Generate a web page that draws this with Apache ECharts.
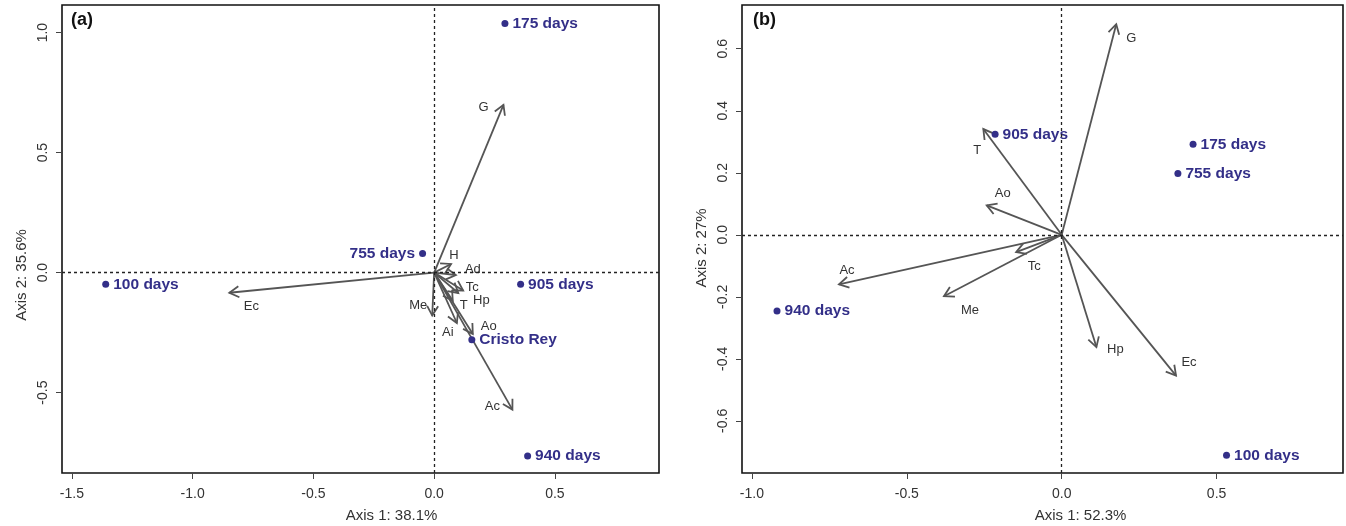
<!DOCTYPE html>
<html>
<head>
<meta charset="utf-8">
<script src="https://cdn.jsdelivr.net/npm/echarts@6/dist/echarts.min.js"></script>
<style>
  html, body { margin: 0; padding: 0; background: #fff; }
  #biplot { width: 1346px; height: 526px; }
</style>
</head>
<body>
<div id="biplot"></div>
<script>
// ==============================================================
// data
// ==============================================================
// (a) sites
var siteNamesA = ['175 days', '755 days', '100 days', '905 days', 'Cristo Rey', '940 days'];
var siteXA = [0.293, -0.048, -1.36, 0.358, 0.156, 0.387];
var siteYA = [1.038, 0.080, -0.049, -0.049, -0.280, -0.764];
// (a) variable arrows
var varNamesA = ['G', 'Ec', 'Ac', 'H', 'Ad', 'Tc', 'Hp', 'T', 'Me', 'Ai', 'Ao'];
var varXA = [0.287, -0.848, 0.324, 0.070, 0.090, 0.120, 0.100, 0.077, -0.008, 0.094, 0.160];
var varYA = [0.699, -0.084, -0.571, 0.036, -0.010, -0.075, -0.085, -0.117, -0.179, -0.210, -0.256];

// (b) sites
var siteNamesB = ['905 days', '175 days', '755 days', '940 days', '100 days'];
var siteXB = [-0.215, 0.424, 0.375, -0.919, 0.532];
var siteYB = [0.324, 0.292, 0.198, -0.246, -0.711];
// (b) variable arrows
var varNamesB = ['G', 'T', 'Ao', 'Ac', 'Tc', 'Me', 'Hp', 'Ec'];
var varXB = [0.176, -0.253, -0.242, -0.719, -0.147, -0.380, 0.112, 0.369];
var varYB = [0.679, 0.341, 0.095, -0.160, -0.056, -0.198, -0.362, -0.454];

// tick labels
var xTicksA = [-1.5, -1.0, -0.5, 0.0, 0.5];
var yTicksA = [-0.5, 0.0, 0.5, 1.0];
var xTicksB = [-1.0, -0.5, 0.0, 0.5];
var yTicksB = [-0.6, -0.4, -0.2, 0.0, 0.2, 0.4, 0.6];

// ==============================================================
// styling (pixel offsets of the arrow labels from the arrow tip)
// ==============================================================
var labelOffA = {
    G: [-20, 3], Ec: [22, 14], Ac: [-20, -3], H: [3, -9], Ad: [17, -6],
    Tc: [9, -3], Hp: [23, 7], T: [11, 5], Me: [-14, -10], Ai: [-9, 9], Ao: [16, -8]
};
var labelOffB = {
    G: [15, 14], T: [-6, 21], Ao: [16, -12], Ac: [8, -14],
    Tc: [18, 14], Me: [26, 14], Hp: [19, 2], Ec: [13, -13]
};
var siteLabelPosA = { '755 days': 'left' };

var siteColor = '#332f88';
var arrowColor = '#555555';
var fontFam = '"Liberation Sans", Arial, sans-serif';

function zip(xs, ys, names) {
    return xs.map(function (x, i) { return { name: names[i], value: [x, ys[i]] }; });
}
function fmt(v) { return v.toFixed(1); }

// shiftX / shiftY: how far the axis titles sit off the centre of the box
function makeAxes(gridIndex, xr, yr, xt, yt, xName, yName, shiftX, shiftY) {
    var x = {
        gridIndex: gridIndex, type: 'value', min: xr[0], max: xr[1],
        name: xName, nameLocation: 'middle', nameGap: 35,
        nameTextStyle: { fontFamily: fontFam, fontSize: 15, color: '#333', padding: [0, 0, 0, 2 * shiftX] },
        axisLine: { show: false, onZero: false },
        axisTick: { show: true, length: 6, inside: false, customValues: xt, lineStyle: { color: '#444' } },
        axisLabel: { customValues: xt, formatter: fmt, margin: 14, fontFamily: fontFam, fontSize: 14, color: '#333' },
        splitLine: { show: false }
    };
    var y = {
        gridIndex: gridIndex, type: 'value', min: yr[0], max: yr[1],
        name: yName, nameLocation: 'middle', nameGap: 33, nameRotate: 90,
        nameTextStyle: { fontFamily: fontFam, fontSize: 15, color: '#333', padding: [0, 2 * shiftY, 0, 0] },
        axisLine: { show: false, onZero: false },
        axisTick: { show: true, length: 6, inside: false, customValues: yt, lineStyle: { color: '#444' } },
        axisLabel: { customValues: yt, formatter: fmt, rotate: 90, margin: 12, fontFamily: fontFam, fontSize: 14, color: '#333' },
        splitLine: { show: false }
    };
    return [x, y];
}

function arrowSeries(idx, data, offs) {
    return {
        type: 'custom',
        xAxisIndex: idx, yAxisIndex: idx,
        data: data,
        silent: true,
        z: 3,
        renderItem: function (params, api) {
            var p0 = api.coord([0, 0]);
            var p1 = api.coord([api.value(0), api.value(1)]);
            var ang = Math.atan2(p1[1] - p0[1], p1[0] - p0[0]);
            var hl = 11, ha = Math.PI / 6;
            var h1 = [p1[0] - hl * Math.cos(ang - ha), p1[1] - hl * Math.sin(ang - ha)];
            var h2 = [p1[0] - hl * Math.cos(ang + ha), p1[1] - hl * Math.sin(ang + ha)];
            var nm = data[params.dataIndex].name;
            var off = offs[nm] || [0, 0];
            var st = { stroke: arrowColor, lineWidth: 1.8, fill: null };
            return {
                type: 'group',
                children: [
                    { type: 'line', shape: { x1: p0[0], y1: p0[1], x2: p1[0], y2: p1[1] }, style: st },
                    { type: 'polyline', shape: { points: [h1, p1, h2] }, style: st },
                    {
                        type: 'text', x: p1[0] + off[0], y: p1[1] + off[1],
                        style: {
                            text: nm, fill: '#333', font: '13px ' + fontFam,
                            align: 'center', verticalAlign: 'middle'
                        }
                    }
                ]
            };
        }
    };
}

function siteSeries(idx, data, posMap) {
    return {
        type: 'scatter',
        xAxisIndex: idx, yAxisIndex: idx,
        symbol: 'circle', symbolSize: 7,
        itemStyle: { color: siteColor, opacity: 1 },
        z: 4,
        data: data.map(function (d) {
            return {
                name: d.name, value: d.value,
                label: { position: (posMap && posMap[d.name]) || 'right' }
            };
        }),
        label: {
            show: true, formatter: '{b}', distance: 4,
            color: siteColor, fontWeight: 'bold', fontSize: 15.5, fontFamily: fontFam
        },
        markLine: {
            silent: true, symbol: 'none', label: { show: false },
            lineStyle: { color: '#222', type: [3, 3], width: 1.3, opacity: 1 },
            data: [{ xAxis: 0 }, { yAxis: 0 }]
        }
    };
}

var myChart = echarts.init(document.getElementById('biplot'));

var axA = makeAxes(0, [-1.541, 0.931], [-0.835, 1.115], xTicksA, yTicksA, 'Axis 1: 38.1%', 'Axis 2: 35.6%', 31, 36);
var axB = makeAxes(1, [-1.032, 0.908], [-0.768, 0.741], xTicksB, yTicksB, 'Axis 1: 52.3%', 'Axis 2: 27%', 38, 9);

option = {
    animation: false,
    backgroundColor: '#fff',
    grid: [
        { left: 62, right: 687, top: 5, bottom: 53, outerBoundsMode: 'none', show: true, borderColor: '#111', borderWidth: 1.6, backgroundColor: 'transparent' },
        { left: 742, right: 3, top: 5, bottom: 53, outerBoundsMode: 'none', show: true, borderColor: '#111', borderWidth: 1.6, backgroundColor: 'transparent' }
    ],
    title: [
        { text: '(a)', left: 66, top: 6, textStyle: { fontFamily: fontFam, fontSize: 18, fontWeight: 'bold', color: '#111' } },
        { text: '(b)', left: 748, top: 6, textStyle: { fontFamily: fontFam, fontSize: 18, fontWeight: 'bold', color: '#111' } }
    ],
    xAxis: [axA[0], axB[0]],
    yAxis: [axA[1], axB[1]],
    series: [
        siteSeries(0, zip(siteXA, siteYA, siteNamesA), siteLabelPosA),
        arrowSeries(0, zip(varXA, varYA, varNamesA), labelOffA),
        siteSeries(1, zip(siteXB, siteYB, siteNamesB), null),
        arrowSeries(1, zip(varXB, varYB, varNamesB), labelOffB)
    ]
};

myChart.setOption(option, true);
</script>
</body>
</html>
